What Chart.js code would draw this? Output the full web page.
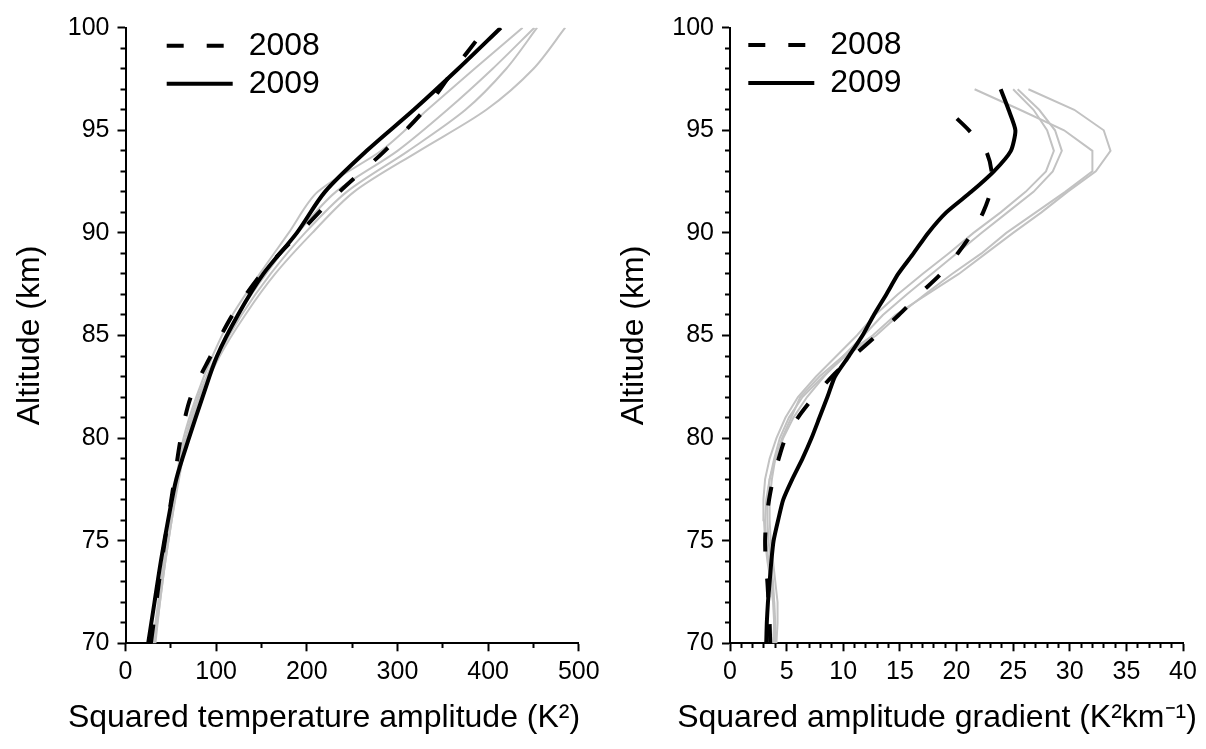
<!DOCTYPE html>
<html><head><meta charset="utf-8">
<script src="https://cdn.jsdelivr.net/npm/chart.js@4.4.0/dist/chart.umd.min.js"></script>
<style>
html,body{margin:0;padding:0;background:#fff;overflow:hidden;}
#wrap{position:relative;width:1206px;height:749px;overflow:hidden;}
.box{position:absolute;top:0;height:749px;}
#b1{left:0;width:648px;}
#b2{left:604px;width:666px;}
</style></head><body>
<div id="wrap"><div class="box" id="b1"><canvas id="c1"></canvas></div><div class="box" id="b2"><canvas id="c2"></canvas></div></div>
<script>
// ---- Left panel: squared temperature amplitude (K^2) vs altitude (km)
const altLeft  = [70,72,74,76,78,80,82,84,86,88,90,92,94,96,98,100];
const ampl2008 = [28,34,40,47,54,61,72,94,118,150,192,236,286,330,363,398];
const ampl2009 = [25,32,39,47,56,70,85,101,124,152,189,220,266,318,367,414];
const amplGrayA = [30,36,42,49,56,64,78,96,118,148,180,212,282,333,385,438];
const amplGrayB = [31,37,43,50,57,66,80,100,124,155,190,232,300,355,405,451];
const amplGrayC = [32,38,44,51,58,67,82,102,128,160,198,244,312,375,420,454];
const amplGrayD = [33,38,44,51,59,68,83,104,132,165,206,252,324,398,450,485];

// ---- Right panel: squared amplitude gradient (K^2 km^-1) vs altitude (km)
const altRight = [70,71,72,73,74,75,76,77,78,79,80,81,82,83,84,85,86,87,88,89,90,91,92,93,94,95,96,97];
const alt2008Right = [70,71,72,73,74,75,76,77,78,79,80,81,82,83,84,85,86,87,88,89,90,91,92,93,94,95,96,96.2];
const grad2008 = [3.55,3.5,3.4,3.3,3.15,3.1,3.2,3.45,3.8,4.3,4.9,6.0,7.4,9.0,10.9,12.95,14.9,16.7,18.6,20.1,21.4,22.35,23.0,23.1,22.6,21.1,19.2,18.8];
const grad2009 = [3.2,3.25,3.35,3.5,3.65,3.85,4.25,4.7,5.5,6.4,7.2,7.9,8.6,9.27,10.5,11.7,12.7,13.8,14.85,16.2,17.5,19.1,21.3,23.3,24.8,25.2,24.6,23.9];
const gradGrayA = [3.9,3.9,3.8,3.6,3.3,3.1,3.0,2.95,3.1,3.5,4.1,4.9,6.0,7.6,9.4,11.2,12.8,14.8,17.0,19.3,21.5,23.9,26.1,27.9,28.6,28.0,26.8,25.0];
const gradGrayB = [4.0,4.0,3.9,3.7,3.4,3.2,3.1,3.2,3.5,4.0,4.7,5.6,6.8,8.3,10.0,11.8,13.5,15.6,17.8,20.0,22.2,24.5,26.8,28.5,29.3,28.7,27.3,25.4];
const gradGrayC = [3.8,3.9,3.9,3.8,3.6,3.4,3.3,3.3,3.5,3.9,4.4,5.2,6.4,8.2,10.2,12.9,14.9,17.2,19.6,22.2,24.4,27.0,29.6,32.0,32.0,29.5,25.6,21.6];
const gradGrayD = [4.1,4.2,4.2,4.0,3.8,3.6,3.5,3.5,3.7,4.0,4.6,5.4,6.2,7.9,10.0,12.6,14.6,17.4,20.2,22.6,25.0,27.5,29.8,32.3,33.6,33.0,30.4,26.35];

const FONT = "'Liberation Sans', Arial, sans-serif";
const pts = (xs, ys) => xs.map((v, i) => ({x: v, y: ys[i]}));

function blackSet(label, xs, ys, dashed, tension) {
  return {label, data: pts(xs, ys), showLine: true, borderColor: '#000', backgroundColor: '#000',
    borderWidth: 4, borderDash: dashed ? [19, 27] : [], pointRadius: 0, tension, order: 1, fill: false};
}
function graySet(xs, ys, tension) {
  return {label: '', data: pts(xs, ys), showLine: true, borderColor: '#c2c2c2', backgroundColor: '#c2c2c2',
    borderWidth: 2, pointRadius: 0, tension, order: 5, fill: false};
}

function makeOptions(cfg) {
  return {
    responsive: true, maintainAspectRatio: false, animation: false,
    layout: {padding: {top: 27.7, right: 0, bottom: 0, left: 0}},
    scales: {
      x: {
        type: 'linear', position: 'bottom', min: cfg.xmin, max: cfg.xmax,
        afterFit: s => { s.height = 55.5; },
        border: {display: true, color: '#000', width: 2},
        grid: {display: true, drawOnChartArea: false, drawTicks: true, tickLength: 8,
          tickColor: '#000', tickWidth: 2,
          tickBorderDash: c => (c.tick && Math.abs(c.tick.value % cfg.xMajor) > 1e-6) ? [4, 30] : []},
        ticks: {stepSize: cfg.xStep, autoSkip: false, maxRotation: 0, padding: 6, color: '#000',
          font: {family: FONT, size: 25},
          callback: v => (Math.abs(v % cfg.xMajor) < 1e-6 ? String(v) : '')},
        title: {display: false}
      },
      y: {
        type: 'linear', position: 'left', min: 70, max: 100,
        afterFit: s => { s.width = cfg.yWidth; },
        border: {display: true, color: '#000', width: 2},
        grid: {display: true, drawOnChartArea: false, drawTicks: true, tickLength: 8,
          tickColor: '#000', tickWidth: 2,
          tickBorderDash: c => (c.tick && Math.abs(c.tick.value % 5) > 1e-6) ? [0, 3, 30] : []},
        ticks: {stepSize: 1, autoSkip: false, padding: 8, color: '#000',
          font: {family: FONT, size: 25},
          callback: v => (Math.abs(v % 5) < 1e-6 ? String(v) : '')},
        title: {display: true, text: 'Altitude (km)', color: '#000', font: {family: FONT, size: 32},
          padding: {top: 11, bottom: 0}}
      },
      yPad: {
        type: 'linear', position: 'right', min: 70, max: 100, display: true,
        afterFit: s => { s.width = cfg.rightSpace; },
        border: {display: false},
        grid: {display: false, drawTicks: false},
        ticks: {display: false}
      }
    },
    plugins: {
      tooltip: {enabled: false},
      title: {
        display: true, position: 'bottom', align: 'center', text: cfg.xTitle,
        color: '#000', font: {family: FONT, size: 32, weight: 'normal'},
        padding: {top: 0, bottom: 11.8}
      },
      legend: {
        display: true, position: 'chartArea', align: 'start',
        labels: {
          usePointStyle: true, pointStyle: 'line', pointStyleWidth: 66, padding: 6,
          color: '#000', font: {family: FONT, size: 32},
          generateLabels: chart => {
            const items = Chart.defaults.plugins.legend.labels.generateLabels(chart);
            return items.filter(it => it.datasetIndex < 2).map(it => {
              if (it.datasetIndex === 0) it.lineDash = [17, 23];
              return it;
            });
          }
        }
      }
    }
  };
}

function legendMover(x, y) {
  return {id: 'legendMover', afterLayout(chart) {
    const lg = chart.legend; if (lg) { lg.left = x; lg.top = y; }
  }};
}

new Chart(document.getElementById('c1'), {
  type: 'scatter',
  data: {datasets: [
    blackSet('2008', ampl2008, altLeft, true, 0.3),
    blackSet('2009', ampl2009, altLeft, false, 0.3),
    graySet(amplGrayA, altLeft, 0.3),
    graySet(amplGrayB, altLeft, 0.3),
    graySet(amplGrayC, altLeft, 0.3),
    graySet(amplGrayD, altLeft, 0.3)
  ]},
  options: makeOptions({xmin: 0, xmax: 500, xStep: 50, xMajor: 100, yWidth: 125.5, rightSpace: 69.2,
    xTitle: 'Squared temperature amplitude (K\u00B2)'}),
  plugins: [legendMover(160.7, 23.7)]
});

new Chart(document.getElementById('c2'), {
  type: 'scatter',
  data: {datasets: [
    blackSet('2008', grad2008, alt2008Right, true, 0.25),
    blackSet('2009', grad2009, altRight, false, 0.2),
    graySet(gradGrayA, altRight, 0),
    graySet(gradGrayB, altRight, 0),
    graySet(gradGrayC, altRight, 0),
    graySet(gradGrayD, altRight, 0)
  ]},
  options: makeOptions({xmin: 0, xmax: 40, xStep: 1, xMajor: 5, yWidth: 126, rightSpace: 87,
    xTitle: 'Squared amplitude gradient (K\u00B2km\u207B\u00B9)'}),
  plugins: [legendMover(138.3, 23)]
});
</script>
</body></html>
